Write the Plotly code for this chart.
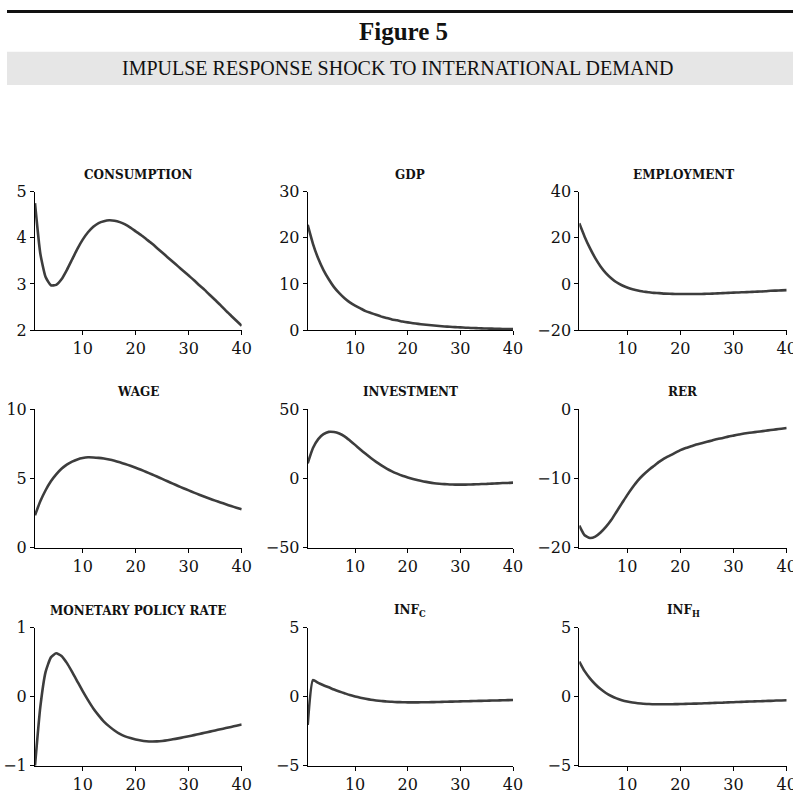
import plotly.graph_objects as go

W, H = 793, 807

periods = list(range(1, 41))

consumption = [4.75, 3.66, 3.15, 2.97, 2.98, 3.10, 3.30, 3.53, 3.76, 3.96,
               4.12, 4.24, 4.32, 4.36, 4.38, 4.37, 4.34, 4.29, 4.22, 4.14,
               4.06, 3.97, 3.88, 3.78, 3.68, 3.58, 3.48, 3.38, 3.28, 3.18,
               3.08, 2.97, 2.87, 2.76, 2.65, 2.54, 2.42, 2.31, 2.20, 2.09]
gdp = [22.8, 18.7, 15.5, 13.0, 11.0, 9.3, 8.0, 6.9, 6.0, 5.3,
       4.7, 4.1, 3.7, 3.3, 2.9, 2.6, 2.3, 2.1, 1.85, 1.65,
       1.48, 1.33, 1.19, 1.07, 0.96, 0.86, 0.77, 0.69, 0.62, 0.56,
       0.50, 0.45, 0.40, 0.36, 0.32, 0.29, 0.26, 0.23, 0.21, 0.19]
employment = [26.3, 20.5, 15.5, 11.2, 7.6, 4.7, 2.5, 0.7, -0.6, -1.6,
              -2.3, -2.9, -3.3, -3.6, -3.9, -4.0, -4.2, -4.3, -4.35, -4.4,
              -4.4, -4.4, -4.4, -4.35, -4.3, -4.2, -4.1, -4.0, -3.9, -3.8,
              -3.7, -3.6, -3.5, -3.4, -3.3, -3.2, -3.0, -2.9, -2.8, -2.7]
wage = [2.35, 3.35, 4.15, 4.80, 5.30, 5.70, 6.00, 6.22, 6.38, 6.48,
        6.53, 6.52, 6.49, 6.44, 6.37, 6.28, 6.17, 6.05, 5.92, 5.78,
        5.63, 5.47, 5.31, 5.14, 4.97, 4.80, 4.63, 4.46, 4.30, 4.14,
        3.98, 3.83, 3.68, 3.54, 3.40, 3.27, 3.14, 3.01, 2.89, 2.77]
investment = [11.0, 22.0, 28.5, 32.0, 33.7, 33.6, 32.5, 30.5, 27.5, 24.3,
              21.0, 17.8, 14.8, 12.0, 9.5, 7.2, 5.2, 3.5, 2.0, 0.8,
              -0.3, -1.3, -2.1, -2.8, -3.4, -3.8, -4.1, -4.3, -4.4, -4.4,
              -4.4, -4.3, -4.2, -4.0, -3.9, -3.7, -3.5, -3.3, -3.2, -3.0]
rer = [-16.8, -18.2, -18.6, -18.4, -17.8, -17.0, -16.0, -14.8, -13.6, -12.4,
       -11.3, -10.3, -9.5, -8.8, -8.2, -7.6, -7.1, -6.7, -6.3, -5.9,
       -5.6, -5.35, -5.1, -4.9, -4.7, -4.5, -4.3, -4.15, -3.95, -3.8,
       -3.65, -3.5, -3.4, -3.3, -3.2, -3.1, -3.0, -2.9, -2.8, -2.7]
policy_rate = [-1.0, -0.15, 0.36, 0.57, 0.63, 0.59, 0.49, 0.36, 0.22, 0.08,
               -0.05, -0.17, -0.27, -0.36, -0.43, -0.49, -0.54, -0.575, -0.60, -0.62,
               -0.635, -0.645, -0.65, -0.648, -0.641, -0.631, -0.618, -0.604, -0.589, -0.573,
               -0.557, -0.54, -0.523, -0.506, -0.489, -0.472, -0.455, -0.438, -0.421, -0.404]
inf_c = [-2.05, 1.2, 1.0, 0.83, 0.68, 0.52, 0.38, 0.25, 0.12, 0.02,
         -0.07, -0.15, -0.22, -0.27, -0.31, -0.35, -0.37, -0.39, -0.40, -0.41,
         -0.41, -0.41, -0.40, -0.40, -0.39, -0.38, -0.37, -0.36, -0.35, -0.34,
         -0.33, -0.32, -0.31, -0.30, -0.29, -0.28, -0.27, -0.26, -0.25, -0.24]
inf_h = [2.55, 1.85, 1.33, 0.9, 0.55, 0.27, 0.05, -0.12, -0.25, -0.35,
         -0.42, -0.47, -0.51, -0.53, -0.55, -0.55, -0.55, -0.55, -0.54, -0.53,
         -0.52, -0.51, -0.50, -0.49, -0.47, -0.46, -0.44, -0.43, -0.41, -0.40,
         -0.38, -0.37, -0.35, -0.34, -0.33, -0.31, -0.30, -0.28, -0.27, -0.26]

titles = ["CONSUMPTION", "GDP", "EMPLOYMENT",
          "WAGE", "INVESTMENT", "RER",
          "MONETARY POLICY RATE", "INF<sub>C</sub>", "INF<sub>H</sub>"]
series = [consumption, gdp, employment, wage, investment, rer, policy_rate, inf_c, inf_h]
y_ranges = [[2, 5], [0, 30], [-20, 40], [0, 10], [-50, 50], [-20, 0], [-1, 1], [-5, 5], [-5, 5]]
y_ticks = [[2, 3, 4, 5], [0, 10, 20, 30], [-20, 0, 20, 40], [0, 5, 10], [-50, 0, 50],
           [-20, -10, 0], [-1, 0, 1], [-5, 0, 5], [-5, 0, 5]]
x_ticks = [10, 20, 30, 40]

title_text = "Figure 5"
subtitle_text = "IMPULSE RESPONSE SHOCK TO INTERNATIONAL DEMAND"

# layout geometry in pixels
col_px = [(35, 241.7), (307.7, 513), (579.3, 786.7)]
row_px = [(191.7, 330), (409.3, 547.7), (627.7, 765.7)]

fig = go.Figure()
annotations = []
tick_font = dict(family="DejaVu Serif", size=16, color="#111111")

for i in range(9):
    r, c = divmod(i, 3)
    n = i + 1
    xa = "xaxis" if n == 1 else f"xaxis{n}"
    ya = "yaxis" if n == 1 else f"yaxis{n}"
    xr = "x" if n == 1 else f"x{n}"
    yr = "y" if n == 1 else f"y{n}"
    fig.add_trace(go.Scatter(x=periods, y=series[i], mode="lines",
                             line=dict(color="#3d3d3d", width=2.6, shape="spline", smoothing=0.5),
                             xaxis=xr, yaxis=yr, showlegend=False, hoverinfo="skip"))
    x0, x1 = col_px[c]
    y0, y1 = row_px[r]
    fig.layout[xa] = dict(domain=[x0 / W, x1 / W], range=[1, 40], anchor=yr, automargin=False,
                          ticklabeloverflow="allow",
                          showgrid=False, zeroline=False, showline=True, linecolor="black",
                          linewidth=1, ticks="outside", ticklen=4, tickcolor="black",
                          tickvals=x_ticks, tickfont=tick_font)
    fig.layout[ya] = dict(domain=[1 - y1 / H, 1 - y0 / H], range=y_ranges[i], anchor=xr,
                          automargin=False, ticklabeloverflow="allow",
                          showgrid=False, zeroline=False, showline=True, linecolor="black",
                          linewidth=1, ticks="outside", ticklen=4, tickcolor="black",
                          tickvals=y_ticks[i], tickfont=tick_font)
    annotations.append(dict(text=titles[i], x=(x0 + x1) / 2 / W, y=1 - (y0 - 17) / H,
                            xref="paper", yref="paper", xanchor="center", yanchor="middle",
                            showarrow=False,
                            font=dict(family="DejaVu Serif", size=12, color="#111111", weight="bold")))

annotations.append(dict(text=title_text, x=403 / W, y=1 - 31 / H, xref="paper", yref="paper",
                        xanchor="center", yanchor="middle", showarrow=False,
                        font=dict(family="Liberation Serif", size=25, color="#111111", weight="bold")))
annotations.append(dict(text=subtitle_text, x=397 / W, y=1 - 68 / H, xref="paper", yref="paper",
                        xanchor="center", yanchor="middle", showarrow=False,
                        font=dict(family="Liberation Serif", size=20, color="#111111")))

shapes = [
    dict(type="line", xref="paper", yref="paper", x0=7 / W, x1=1, y0=1 - 11.5 / H, y1=1 - 11.5 / H,
         line=dict(color="#111111", width=3)),
    dict(type="rect", xref="paper", yref="paper", x0=7 / W, x1=1, y0=1 - 85 / H, y1=1 - 51.7 / H,
         fillcolor="#e6e6e6", line=dict(width=0), layer="below"),
]

fig.update_layout(width=W, height=H, margin=dict(l=0, r=0, t=0, b=0, autoexpand=False),
                  paper_bgcolor="white", plot_bgcolor="white",
                  annotations=annotations, shapes=shapes)

fig.write_html("out.html")
